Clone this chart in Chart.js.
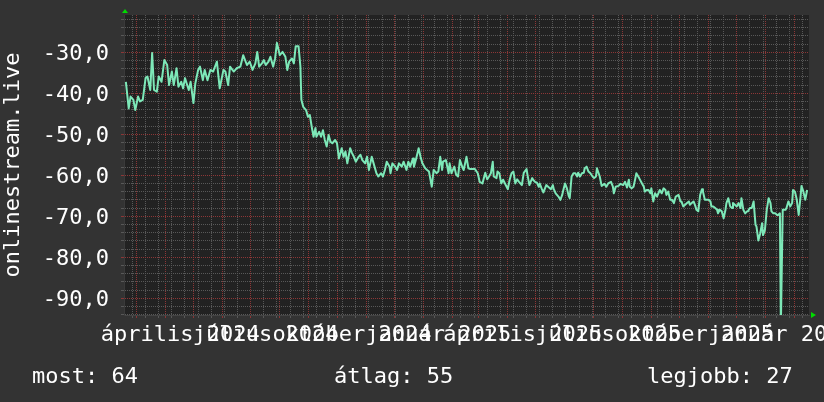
<!DOCTYPE html>
<html>
<head>
<meta charset="utf-8">
<script src="https://cdn.jsdelivr.net/npm/chart.js@4.4.1/dist/chart.umd.min.js"></script>
<style>
  html, body { margin: 0; padding: 0; background: #333333; }
  #wrap { position: relative; width: 824px; height: 402px; overflow: hidden; }
  canvas { display: block; }
  .stat {
    position: absolute; top: 364px;
    font: 22px "DejaVu Sans Mono", monospace; line-height: 24px;
    color: #ffffff; white-space: pre;
  }
</style>
</head>
<body>
<div id="wrap">
  <canvas id="chart" width="824" height="402"></canvas>
  <div class="stat" style="left:32px">most: 64</div>
  <div class="stat" style="left:334px">átlag: 55</div>
  <div class="stat" style="left:647px">legjobb: 27</div>
</div>
<script>
'use strict';

// ── Data ───────────────────────────────────────────────────────
const START_UTC = Date.UTC(2024, 1, 17);   // day 0 of the graph
const END_DAY   = 730;

// sample days (since START) and measured values
const DAYS = [
  2, 5, 7, 10, 12, 15, 17, 20, 23, 25, 28, 30, 32, 35, 37, 40, 43, 46, 48, 51,
  53, 56, 58, 61, 63, 65, 69, 71, 74, 76, 79, 81, 84, 86, 89, 92, 95, 99, 102, 106,
  108, 111, 113, 117, 120, 124, 127, 131,
  134, 137, 140, 142, 144, 147, 149, 151, 154, 156, 159, 161, 163, 166, 169, 172, 174, 176, 179, 181,
  183, 186, 188, 189, 191, 194, 196, 198, 200, 202, 204, 205, 208, 210, 212, 214, 216, 218, 220, 222,
  225, 227, 229, 232, 234, 236, 238, 241, 243, 245, 247, 250, 252, 254, 257, 259, 261, 264, 266, 269,
  271, 274, 276, 278, 280, 283, 284, 286, 289, 291, 293, 296, 298, 301, 303, 305, 308, 309, 311, 314,
  316, 318, 321, 323, 325, 328, 330, 333, 335, 337, 339, 340, 343, 346, 347, 349, 352, 354, 356, 358,
  361, 362, 365, 367,
  369, 374, 377, 379, 382, 385, 387, 389, 391, 393, 394, 397, 398, 400, 402, 404, 406, 409, 411, 413,
  415, 417, 419, 421, 424, 426, 429, 430, 432, 435, 436, 438, 440, 442, 443, 445, 447, 450, 452, 455,
  457, 458, 460, 463, 465, 467, 468, 470, 472, 474, 475, 477, 479, 481, 483, 484, 486, 488, 490, 491,
  493, 495, 497, 499, 501, 503, 504, 507,
  509, 512, 514, 516, 519, 521, 522, 524, 527, 529, 532, 534, 536, 538, 539, 541, 543, 545, 546, 549,
  552, 554, 555, 557, 559, 561, 562, 564, 566, 568, 571, 573, 575, 577, 578, 580, 582, 584, 586, 588,
  591, 593, 594, 596, 598, 600, 602, 603, 605, 607, 609, 610, 612, 614, 616, 617, 619, 621, 623, 625,
  626, 628, 630, 632, 633, 635, 637, 639, 641, 642, 644, 646, 648, 649, 651, 653, 655, 657, 658, 660,
  662, 664, 665, 667, 669, 671, 673, 674, 676, 678, 680, 681, 683, 685, 687, 689, 690, 692, 694, 696,
  697, 699, 700, 702, 705, 706, 708, 710, 712, 713, 715, 717, 719, 721, 722, 724, 726, 728,
];
const VALUES = [
  -37.2, -43.7, -40.8, -41.6, -44.1, -40.8, -42.0, -41.6, -36.3, -35.9, -39.2, -30.2, -39.2, -39.6, -35.9, -37.2, -31.9, -33.1, -38.0, -34.7,
  -38.0, -33.9, -38.4, -37.2, -38.8, -36.3, -39.2, -37.2, -42.4, -37.6, -34.3, -33.5, -36.8, -34.3, -36.8, -34.3, -34.7, -32.3, -38.8, -34.3,
  -34.7, -38.0, -33.5, -34.7, -33.9, -33.5, -30.7, -33.1,
  -32.3, -34.3, -32.7, -29.9, -33.5, -32.7, -31.9, -33.1, -32.3, -31.1, -33.5, -31.5, -27.7, -30.7, -29.9, -31.1, -34.3, -32.3, -31.5, -32.7,
  -28.5, -28.5, -33.5, -41.6, -43.3, -44.1, -45.7, -45.3, -48.1, -50.6, -48.5, -50.6, -49.4, -50.6, -49.0, -51.4, -53.0, -50.2, -51.8, -52.2,
  -51.4, -52.2, -55.9, -53.4, -55.5, -54.2, -57.1, -53.4, -54.6, -55.5, -56.7, -55.5, -55.0, -56.3, -57.1, -55.5, -58.7, -55.5, -57.1, -59.5,
  -60.3, -59.5, -60.3, -58.7, -56.7, -57.9, -59.5, -57.1, -57.9, -58.7, -57.1, -57.9, -56.7, -58.7, -56.7, -57.9, -55.9, -57.9, -56.3, -53.4,
  -55.5, -57.1, -58.3, -58.7, -59.1, -62.8, -58.7, -59.5, -59.1, -55.5, -58.7, -56.7, -56.3, -59.5, -57.1, -59.5, -57.9, -59.9, -60.3, -56.3,
  -58.3, -58.7, -55.5, -58.3,
  -58.5, -58.5, -59.5, -61.6, -62.0, -59.4, -61.0, -60.3, -59.5, -56.7, -60.3, -60.7, -59.1, -59.5, -62.0, -61.1, -62.0, -63.4, -61.1, -59.5,
  -59.1, -62.0, -61.0, -61.6, -62.4, -59.4, -58.5, -59.9, -62.4, -60.7, -61.1, -61.6, -61.8, -62.8, -62.0, -63.2, -64.2, -62.4, -62.8, -63.4,
  -62.4, -63.4, -64.4, -65.2, -66.0, -64.8, -63.8, -62.0, -63.2, -65.1, -65.6, -60.3, -59.5, -59.5, -60.3, -59.4, -60.3, -59.5, -59.4, -58.3,
  -57.9, -59.1, -59.5, -60.2, -60.7, -60.3, -58.3, -60.3,
  -62.6, -62.1, -62.8, -62.0, -61.6, -62.8, -64.4, -62.8, -62.6, -62.1, -62.4, -61.6, -63.0, -61.1, -62.8, -63.2, -62.8, -60.7, -59.5, -60.7,
  -62.0, -62.8, -64.0, -63.6, -63.6, -64.4, -63.2, -66.4, -64.4, -65.2, -63.6, -64.4, -63.2, -63.6, -64.8, -64.0, -66.0, -66.0, -66.8, -65.2,
  -64.8, -66.4, -66.4, -67.6, -67.2, -66.8, -66.4, -67.2, -66.8, -66.4, -67.6, -68.4, -68.8, -64.8, -63.4, -64.0, -66.0, -66.0, -66.0, -66.4,
  -67.6, -67.6, -68.0, -68.4, -69.3, -68.4, -68.8, -70.5, -68.4, -66.8, -65.6, -67.6, -68.0, -66.8, -67.2, -67.6, -66.8, -68.0, -65.6, -68.4,
  -69.3, -68.8, -68.8, -68.0, -68.0, -66.4, -72.1, -72.5, -75.9, -74.2, -71.7, -74.6, -73.4, -68.4, -65.6, -66.8, -68.8, -69.3, -69.3, -69.7,
  -69.7, -69.3, -97.0, -68.4, -68.4, -68.0, -66.4, -67.6, -66.8, -63.6, -64.0, -66.0, -69.7, -65.2, -62.6, -64.0, -66.0, -63.6,
];

const Y_MIN = -94.1;
const Y_MAX = -20.9;
const Y_TICK_FIRST = -94;
const Y_TICK_LAST  = -22;

const MONTH_NAMES = [
  'január','február','március','április','május','június',
  'július','augusztus','szeptember','október','november','december',
];
// quarterly x labels: [year, monthIndex]
const LABEL_MONTHS = [[2024,3],[2024,6],[2024,9],[2025,0],[2025,3],[2025,6],[2025,9],[2026,0]];
const LABEL_SHIFT  = 16;   // label sits mid-month
const FIRST_MONDAY = 9;    // 2024-02-26, minor grid every 2 weeks

const Y_TITLE = 'onlinestream.live';

// ── Style ──────────────────────────────────────────────────────
const FONT      = { family: '"DejaVu Sans Mono", monospace', size: 22 };
const RED_GRID  = 'rgb(140,54,54)';
const GRAY_GRID = 'rgb(88,88,88)';
const LINE_COL  = '#7de8b8';
const ARROW_COL = '#00dd00';

// ── Ticks ──────────────────────────────────────────────────────
const dayOf = (y, m) => (Date.UTC(y, m, 1) - START_UTC) / 86400000;

function buildXTicks() {
  const list = [];
  for (let d = FIRST_MONDAY; d <= END_DAY; d += 14) list.push({ value: d, role: 'minor' });
  for (let y = 2024; y <= 2026; y++) {
    for (let m = 0; m < 12; m++) {
      const d = dayOf(y, m);
      if (d >= 0 && d <= END_DAY) list.push({ value: d, role: 'major' });
    }
  }
  LABEL_MONTHS.forEach(([y, m]) => {
    list.push({ value: dayOf(y, m) + LABEL_SHIFT, role: 'label', text: `${MONTH_NAMES[m]} ${y}` });
  });
  return list.sort((a, b) => a.value - b.value);
}
const X_TICKS = buildXTicks();

const xRole = i => (X_TICKS[i] ? X_TICKS[i].role : 'label');
const xGridColor = c => {
  const r = xRole(c.index);
  return r === 'major' ? RED_GRID : r === 'minor' ? GRAY_GRID : 'transparent';
};
const yGridColor = c => (c.tick && c.tick.value % 10 === 0 ? RED_GRID : GRAY_GRID);

// ── Plugin: backgrounds + axis arrows ──────────────────────────
const rrdFrame = {
  id: 'rrdFrame',
  beforeDraw(chart) {
    const { ctx, chartArea: a } = chart;
    ctx.save();
    ctx.fillStyle = '#333333';
    ctx.fillRect(0, 0, chart.width, chart.height);
    ctx.fillStyle = '#222222';
    ctx.fillRect(a.left, a.top, a.right - a.left, a.bottom - a.top);
    ctx.restore();
  },
  afterDraw(chart) {
    const { ctx, chartArea: a } = chart;
    ctx.save();
    ctx.fillStyle = ARROW_COL;
    ctx.beginPath();
    ctx.moveTo(a.left + 1, a.top - 6);
    ctx.lineTo(a.left - 2, a.top - 2);
    ctx.lineTo(a.left + 4, a.top - 2);
    ctx.closePath();
    ctx.fill();
    ctx.beginPath();
    ctx.moveTo(a.right + 7, a.bottom);
    ctx.lineTo(a.right + 2, a.bottom - 3);
    ctx.lineTo(a.right + 2, a.bottom + 3);
    ctx.closePath();
    ctx.fill();
    ctx.restore();
  },
};

// ── Chart ──────────────────────────────────────────────────────
new Chart(document.getElementById('chart'), {
  type: 'line',
  data: {
    datasets: [{
      data: DAYS.map((d, i) => ({ x: d, y: VALUES[i] })),
      borderColor: LINE_COL,
      borderWidth: 2,
      borderJoinStyle: 'round',
      pointRadius: 0,
      tension: 0,
      fill: false,
    }],
  },
  options: {
    responsive: false,
    animation: false,
    events: [],
    layout: { padding: { left: 0, right: 15, top: 15, bottom: 0 } },
    plugins: { legend: { display: false }, tooltip: { enabled: false } },
    scales: {
      x: {
        type: 'linear', min: 0, max: END_DAY,
        afterBuildTicks: s => { s.ticks = X_TICKS.map(t => ({ value: t.value })); },
        afterFit: s => { s.height = 87; s.paddingLeft = 0; s.paddingRight = 0; },
        ticks: {
          autoSkip: false, maxRotation: 0, minRotation: 0,
          color: '#ffffff', font: FONT, padding: 4,
          callback: (v, i) => (X_TICKS[i] && X_TICKS[i].text) || '',
        },
        grid: { color: xGridColor, tickColor: xGridColor, tickLength: 3 },
        border: { display: true, color: '#444444', dash: [1, 1] },
      },
      y: {
        type: 'linear', min: Y_MIN, max: Y_MAX,
        afterBuildTicks: s => {
          const t = [];
          for (let v = Y_TICK_FIRST; v <= Y_TICK_LAST; v += 2) t.push({ value: v });
          s.ticks = t;
        },
        afterFit: s => { s.width = 124; s.paddingTop = 0; s.paddingBottom = 0; },
        ticks: {
          autoSkip: false, color: '#ffffff', font: FONT, padding: 12, labelOffset: 2,
          callback: v => (v % 10 === 0 ? v.toFixed(1).replace('.', ',') : ''),
        },
        grid: { color: yGridColor, tickColor: yGridColor, tickLength: 3 },
        border: { display: true, color: '#3a3a3a', dash: [1, 1] },
        title: { display: true, text: Y_TITLE, color: '#ffffff', font: FONT, padding: 0 },
      },
    },
  },
  plugins: [rrdFrame],
});
</script>
</body>
</html>
